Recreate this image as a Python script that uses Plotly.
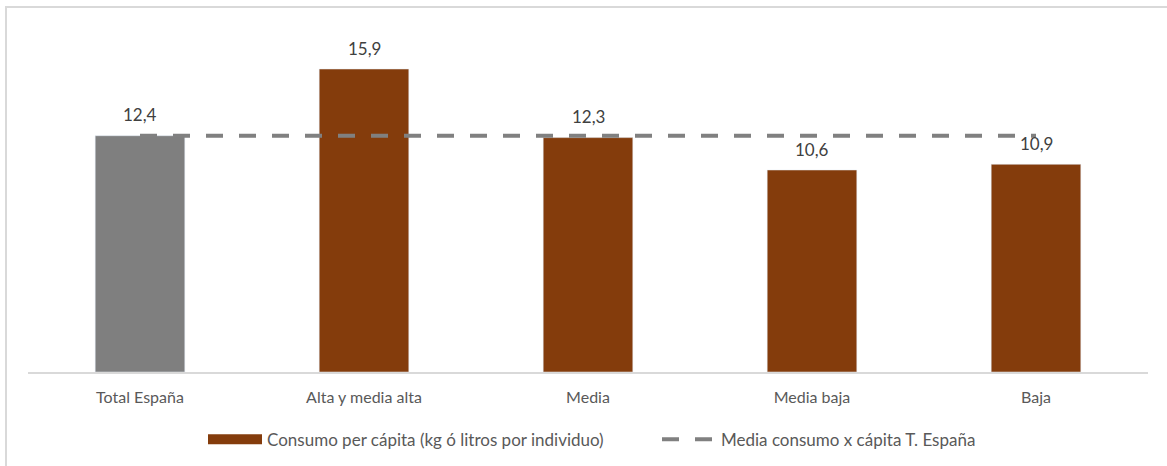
import plotly.graph_objects as go

categories = ["Total España", "Alta y media alta", "Media", "Media baja", "Baja"]
values = [12.4, 15.9, 12.3, 10.6, 10.9]
mean_value = 12.4
bar_name = "Consumo per cápita (kg ó litros por individuo)"
line_name = "Media consumo x cápita T. España"

W, H = 1167, 466
L, R, T, B = 28, 19, 29, 94
pw, ph = W - L - R, H - T - B
FONT = "Lato, Open Sans, sans-serif"

fig = go.Figure()
fig.add_trace(go.Bar(x=categories[:1], y=values[:1], marker_color="#7F7F7F",
                     width=0.4, showlegend=False, hoverinfo="skip"))
fig.add_trace(go.Bar(x=categories[1:], y=values[1:], marker_color="#843C0C",
                     width=0.4, name=bar_name, showlegend=False))
# legend swatch for the bar series (wide rectangle, as in the original)
fig.add_trace(go.Scatter(x=[None], y=[None], mode="lines", name=bar_name,
                         line=dict(color="#843C0C", width=10)))
fig.add_trace(go.Scatter(x=categories, y=[mean_value] * len(categories), mode="lines",
                         line=dict(color="#808080", width=4, dash="17px,16px"),
                         name=line_name))

for c, v in zip(categories, values):
    fig.add_annotation(x=c, y=v, text=f"{v:.1f}".replace(".", ","), showarrow=False,
                       yshift=21, font=dict(size=17, color="#404040", family=FONT))

fig.add_shape(type="rect", xref="paper", yref="paper",
              x0=(6 - L) / pw, x1=(1180 - L) / pw,
              y0=(H - B - 480) / ph, y1=(H - B - 7) / ph,
              line=dict(color="#D9D9D9", width=2), layer="below")

fig.update_layout(
    width=W, height=H,
    margin=dict(l=L, r=R, t=T, b=B, autoexpand=False),
    barmode="overlay",
    plot_bgcolor="white", paper_bgcolor="white",
    separators=",.",
    font=dict(family=FONT, color="#595959", size=15),
    xaxis=dict(showline=True, linecolor="#D9D9D9", linewidth=2, ticks="",
               automargin=False, ticklabelstandoff=10,
               tickfont=dict(size=16, color="#595959"), showgrid=False, zeroline=False),
    yaxis=dict(range=[0, 18], visible=False, showgrid=False, zeroline=False,
               automargin=False),
    legend=dict(orientation="h", x=(203 - L) / pw, xanchor="left", y=-0.145, yanchor="top",
                font=dict(size=17, color="#595959", family=FONT), itemwidth=54,
                entrywidth=385),
    showlegend=True,
)

fig.write_html("out.html", config={"displayModeBar": False},
               post_script="document.body.style.margin='0';document.body.style.overflow='hidden';")
